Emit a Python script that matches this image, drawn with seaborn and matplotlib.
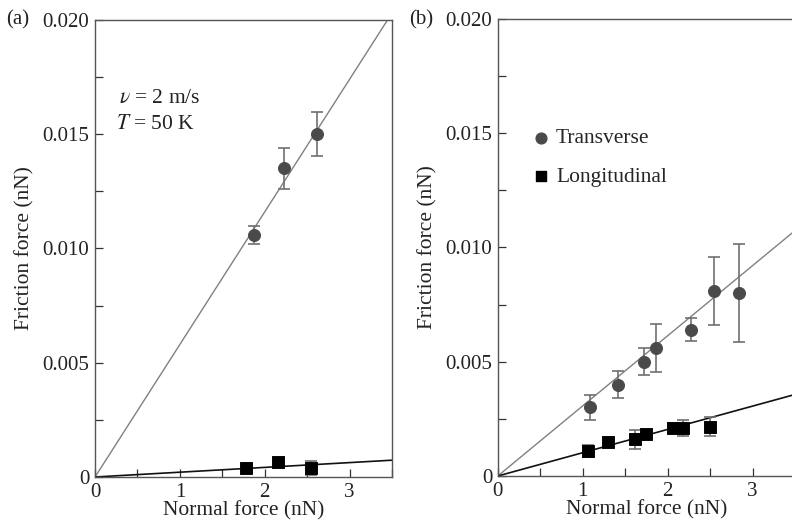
import numpy as np
import pandas as pd
import seaborn as sns
import matplotlib.pyplot as plt
from matplotlib.ticker import MultipleLocator, FuncFormatter

# (a) v = 2 m/s, T = 50 K
a_trans_x = [1.87, 2.23, 2.61]
a_trans_y = [0.0106, 0.0135, 0.0150]
a_trans_err = [0.0004, 0.0009, 0.00095]
a_long_x = [1.78, 2.16, 2.54]
a_long_y = [0.0004, 0.00066, 0.0004]
a_long_err = [0.0, 0.0, 0.0003]
a_slopes = [0.0058, 0.00021]   # fitted lines through origin

# (b)
b_trans_x = [1.08, 1.42, 1.72, 1.86, 2.27, 2.55, 2.84]
b_trans_y = [0.0030, 0.0040, 0.0050, 0.0056, 0.0064, 0.0081, 0.0080]
b_trans_err = [0.00055, 0.0006, 0.0006, 0.00105, 0.0005, 0.00148, 0.00215]
b_long_x = [1.06, 1.30, 1.62, 1.75, 2.06, 2.18, 2.50]
b_long_y = [0.0011, 0.0015, 0.0016, 0.00184, 0.0021, 0.0021, 0.00215]
b_long_err = [0.00025, 0.0, 0.0004, 0.0, 0.0002, 0.00035, 0.00042]
b_slopes = [0.00307, 0.00102]

sns.set_theme(style="ticks")
plt.rcParams['font.family'] = ['Liberation Serif', 'DejaVu Serif']
plt.rcParams['mathtext.fontset'] = 'stix'

fig = plt.figure(figsize=(7.92, 5.24), dpi=100)
ax_a = fig.add_axes([0.12, 0.0897, 0.375, 0.8725])
ax_b = fig.add_axes([0.6285, 0.0916, 0.3755, 0.8722])

trans_col = '#4a4a4a'
err_col = '#707070'


def fmt(v, pos):
    if abs(v) < 1e-12:
        return '0'
    return '%.3f' % v


def draw(ax, tx, ty, te, lx, ly, le, slopes):
    xs = np.array([0, 3.5])
    sns.lineplot(x=xs, y=slopes[0] * xs, ax=ax, color='#808080', lw=1.0)
    sns.lineplot(x=xs, y=slopes[1] * xs, ax=ax, color='#111111', lw=1.2)
    ax.errorbar(tx, ty, yerr=te, fmt='none', ecolor=err_col, elinewidth=1.2,
                capsize=4, capthick=1.2)
    ax.errorbar(lx, ly, yerr=le, fmt='none', ecolor=err_col, elinewidth=1.2,
                capsize=4, capthick=1.2)
    sns.scatterplot(x=tx, y=ty, ax=ax, marker='o', s=75, color=trans_col,
                    edgecolor=trans_col, zorder=5)
    sns.scatterplot(x=lx, y=ly, ax=ax, marker='s', s=68, color='black',
                    edgecolor='black', zorder=5)
    ax.set_xlim(0, 3.5)
    ax.set_ylim(0, 0.020)
    ax.xaxis.set_major_locator(MultipleLocator(1))
    ax.xaxis.set_minor_locator(MultipleLocator(0.5))
    ax.yaxis.set_major_locator(MultipleLocator(0.005))
    ax.yaxis.set_minor_locator(MultipleLocator(0.0025))
    ax.yaxis.set_major_formatter(FuncFormatter(fmt))
    ax.tick_params(which='both', direction='in', length=6, width=0.9,
                   colors='#333333', labelsize=15, labelcolor='#222222',
                   top=False, right=False, pad=4)
    for s in ax.spines.values():
        s.set_color('#555555')
        s.set_linewidth(1.0)
    ax.set_xlabel('Normal force (nN)', fontsize=15.5, color='#222222', labelpad=0)
    ax.set_ylabel('Friction force (nN)', fontsize=15.5, color='#222222', labelpad=6)


draw(ax_a, a_trans_x, a_trans_y, a_trans_err, a_long_x, a_long_y, a_long_err, a_slopes)
draw(ax_b, b_trans_x, b_trans_y, b_trans_err, b_long_x, b_long_y, b_long_err, b_slopes)

ax_a.text(0.08, 0.817, r'$\nu$ = 2 m/s', transform=ax_a.transAxes, fontsize=15.5,
          color='#222222')
ax_a.text(0.07, 0.762, r'$T$ = 50 K', transform=ax_a.transAxes, fontsize=15.5,
          color='#222222')

fig.text(0.008, 0.962, '(a)', fontsize=15, color='#222222', va='center')
fig.text(0.517, 0.962, '(b)', fontsize=15, color='#222222', va='center')

ax_b.scatter([], [], marker='o', s=60, color=trans_col, label='Transverse')
ax_b.scatter([], [], marker='s', s=55, color='black', label='Longitudinal')
ax_b.legend(loc='upper left', bbox_to_anchor=(0.08, 0.78), frameon=False,
            fontsize=15.5, handletextpad=0.2, labelspacing=0.85, borderaxespad=0,
            handlelength=1.0)

fig.savefig('out.png', dpi=100)
